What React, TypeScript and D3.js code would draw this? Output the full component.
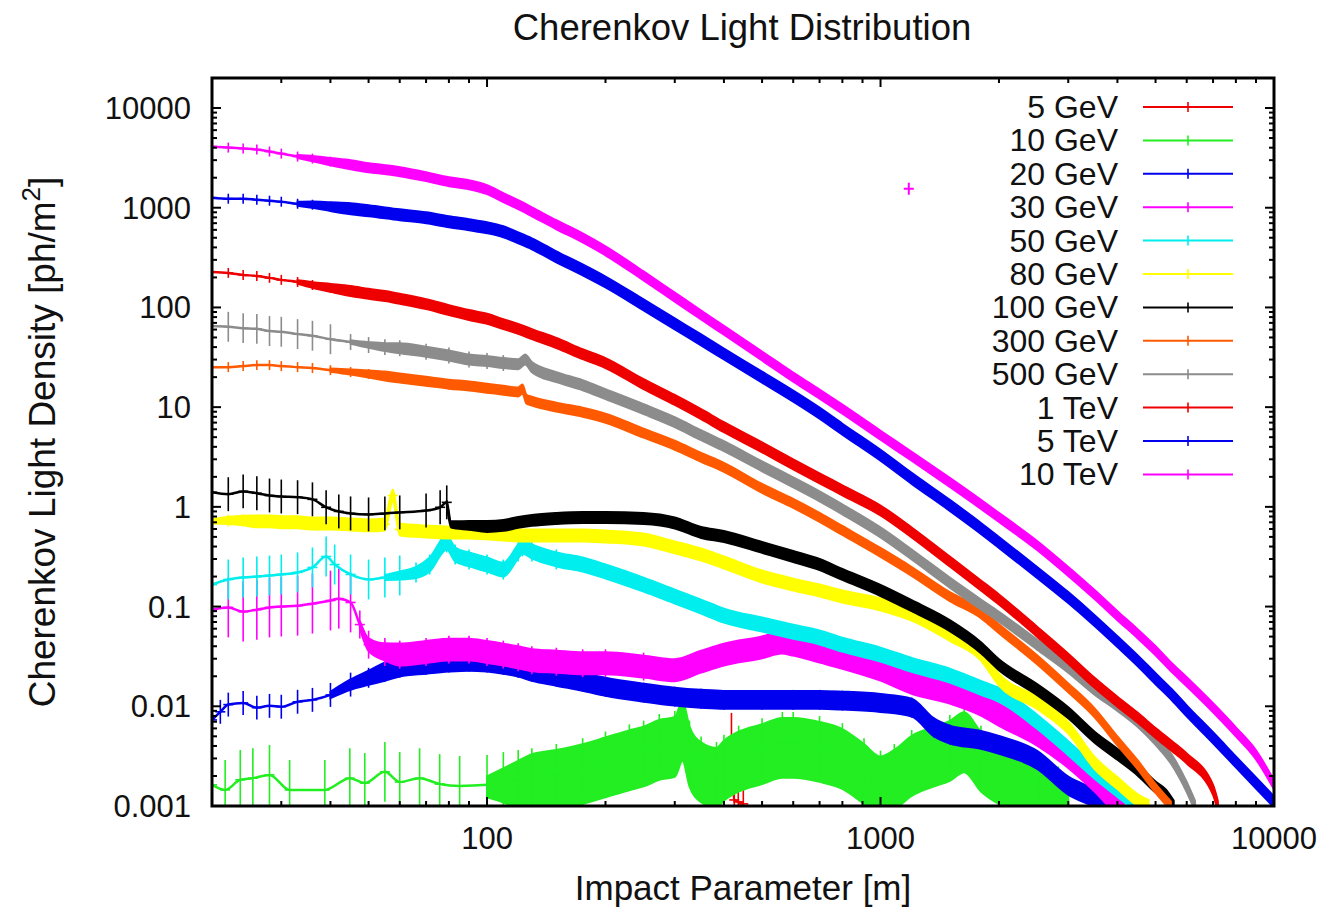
import React from "react";
import * as d3 from "d3";

// ---------- text ----------
const TITLE = "Cherenkov Light Distribution";
const X_LABEL = "Impact Parameter [m]";
const Y_LABEL_MAIN = "Cherenkov Light Density [ph/m";
const Y_LABEL_SUP = "2";
const Y_LABEL_END = "]";
const X_DOMAIN = [20, 10000];
const Y_DOMAIN = [0.001, 20000];
const X_TICK_VALUES = [100, 1000, 10000];
const X_TICK_LABELS = ["100", "1000", "10000"];
const Y_TICK_VALUES = [0.001, 0.01, 0.1, 1, 10, 100, 1000, 10000];
const Y_TICK_LABELS = ["0.001", "0.01", "0.1", "1", "10", "100", "1000", "10000"];
const LABELS = ["5 GeV", "10 GeV", "20 GeV", "30 GeV", "50 GeV", "80 GeV", "100 GeV", "300 GeV", "500 GeV", "1 TeV", "5 TeV", "10 TeV"];

// ---------- data: [impact parameter m, density ph/m^2] ----------
const GEV5 = [[418, 0.0043], [425, 0.00115], [435, 0.0011], [448, 0.00105]];

const GEV10 = [[20, 0.00163], [21.6, 0.00145], [23.6, 0.00183], [25.4, 0.0019], [28, 0.00205], [31.5, 0.00145], [38.7, 0.00145], [44.8, 0.0019], [48.9, 0.0017], [55, 0.0022], [60, 0.00174], [67.4, 0.0019], [75.8, 0.00166], [85.2, 0.00159], [100, 0.00163], [110, 0.00174], [120, 0.00183], [130, 0.0019], [150, 0.0021], [175, 0.0024], [200, 0.0028], [230, 0.0033], [250, 0.0036], [274, 0.0042], [300, 0.0045], [314, 0.0065], [327, 0.0036], [350, 0.0025], [383, 0.0022], [400, 0.0026], [436, 0.0032], [500, 0.0038], [563, 0.0044], [600, 0.0044], [700, 0.004], [800, 0.0034], [908, 0.0024], [1000, 0.0018], [1084, 0.0021], [1200, 0.0029], [1368, 0.0036], [1500, 0.0041], [1632, 0.005], [1800, 0.0032], [2000, 0.0024], [2250, 0.002], [2530, 0.0016], [2830, 0.00125], [3000, 0.001]];

const GEV20 = [[20, 0.0073], [21, 0.0088], [22, 0.0104], [24, 0.0108], [26, 0.0097], [28, 0.0101], [30, 0.0099], [33, 0.0111], [36, 0.0116], [40, 0.013], [45, 0.0165], [50, 0.0193], [55, 0.0222], [60, 0.0244], [70, 0.0261], [80, 0.0274], [90, 0.028], [100, 0.0274], [110, 0.0261], [120, 0.0244], [130, 0.0222], [150, 0.0198], [175, 0.0176], [200, 0.0157], [250, 0.0137], [300, 0.0125], [350, 0.0119], [400, 0.0116], [500, 0.0116], [600, 0.0116], [700, 0.0116], [800, 0.0114], [1000, 0.0108], [1200, 0.0097], [1370, 0.0061], [1500, 0.0052], [1800, 0.0046], [2000, 0.0041], [2500, 0.0029], [3000, 0.0016], [3500, 0.0012], [3800, 0.001]];

const GEV30 = [[20, 0.093], [22, 0.098], [24, 0.089], [26, 0.093], [28, 0.098], [30, 0.1], [33, 0.102], [36, 0.107], [40, 0.115], [42, 0.12], [45, 0.11], [47.5, 0.066], [50, 0.0415], [55, 0.035], [60, 0.033], [70, 0.035], [80, 0.037], [90, 0.037], [100, 0.035], [110, 0.033], [120, 0.031], [130, 0.029], [150, 0.028], [175, 0.027], [200, 0.027], [250, 0.025], [300, 0.023], [350, 0.028], [400, 0.033], [500, 0.039], [560, 0.0435], [600, 0.0415], [700, 0.0353], [800, 0.0307], [1000, 0.0233], [1200, 0.0172], [1500, 0.0137], [1800, 0.0104], [2000, 0.0082], [2500, 0.0052], [3000, 0.0031], [3500, 0.0018], [4000, 0.00107], [4150, 0.001]];

const GEV50 = [[20, 0.166], [22, 0.187], [24, 0.196], [26, 0.2], [28, 0.205], [30, 0.21], [33, 0.22], [36, 0.247], [39, 0.318], [41, 0.264], [45, 0.21], [50, 0.187], [55, 0.196], [60, 0.205], [66, 0.22], [71.5, 0.264], [79, 0.44], [83, 0.333], [90, 0.297], [100, 0.264], [110, 0.235], [120, 0.357], [123, 0.401], [130, 0.357], [150, 0.297], [175, 0.264], [200, 0.225], [250, 0.166], [300, 0.126], [350, 0.1], [400, 0.0812], [500, 0.066], [600, 0.056], [700, 0.049], [800, 0.0415], [1000, 0.033], [1200, 0.026], [1500, 0.0203], [1800, 0.0153], [2000, 0.013], [2500, 0.007], [3000, 0.0038], [3500, 0.0022], [4000, 0.00145], [4530, 0.001]];

const GEV80 = [[20, 0.715], [22, 0.73], [24, 0.73], [26, 0.715], [28, 0.715], [30, 0.7], [33, 0.7], [36, 0.68], [40, 0.68], [45, 0.667], [50, 0.652], [55, 0.667], [57.6, 1.3], [60, 0.594], [70, 0.567], [80, 0.554], [90, 0.554], [100, 0.542], [110, 0.529], [120, 0.517], [130, 0.517], [150, 0.517], [175, 0.517], [200, 0.505], [250, 0.47], [300, 0.392], [350, 0.333], [400, 0.277], [500, 0.2], [600, 0.166], [700, 0.145], [800, 0.126], [1000, 0.105], [1200, 0.083], [1500, 0.052], [1800, 0.033], [2000, 0.0185], [2500, 0.0108], [3000, 0.0061], [3500, 0.0027], [4000, 0.0017], [4500, 0.00115], [4800, 0.001]];

const GEV100 = [[20, 1.4], [22, 1.34], [24, 1.43], [26, 1.37], [28, 1.3], [30, 1.27], [33, 1.25], [36, 1.19], [39, 0.99], [42, 0.9], [45, 0.86], [50, 0.84], [55, 0.86], [60, 0.88], [70, 0.92], [76, 0.99], [79, 1.11], [81, 0.667], [90, 0.652], [100, 0.637], [110, 0.652], [120, 0.699], [130, 0.732], [150, 0.766], [175, 0.784], [200, 0.784], [250, 0.766], [300, 0.69], [350, 0.554], [400, 0.505], [500, 0.392], [600, 0.318], [700, 0.264], [800, 0.21], [1000, 0.145], [1200, 0.102], [1500, 0.0644], [1800, 0.0387], [2000, 0.0261], [2500, 0.0147], [3000, 0.0086], [3500, 0.0049], [4000, 0.0033], [4500, 0.0023], [5000, 0.00155], [5300, 0.0013], [5560, 0.001]];

const GEV300 = [[20, 25.2], [22, 25.2], [24, 25.8], [26, 26.4], [28, 26.4], [30, 25.8], [33, 25.2], [36, 24.7], [40, 23.5], [45, 22.5], [50, 21.5], [55, 20.5], [60, 19.6], [70, 18.2], [80, 17], [90, 16.3], [100, 15.5], [110, 14.8], [120, 14.2], [123, 15.2], [126, 12], [130, 11.5], [150, 10], [175, 8.9], [200, 7.75], [250, 5.48], [300, 4.15], [350, 3.14], [400, 2.49], [500, 1.53], [600, 1.084], [700, 0.784], [800, 0.58], [1000, 0.349], [1200, 0.225], [1500, 0.126], [1800, 0.085], [2000, 0.06], [2500, 0.0293], [3000, 0.0153], [3500, 0.0086], [4000, 0.0045], [4500, 0.0026], [5000, 0.0015], [5470, 0.001]];

const GEV500 = [[20, 65], [22, 64], [24, 62], [26, 61], [28, 58], [30, 57], [33, 54], [36, 52], [40, 48], [45, 45], [50, 42], [55, 40], [60, 39], [70, 36], [80, 33], [90, 30], [100, 29], [110, 27.7], [120, 27], [125, 30], [130, 25.2], [150, 20], [175, 16.6], [200, 13.5], [250, 9.55], [300, 7.07], [350, 5.23], [400, 4.06], [500, 2.55], [600, 1.76], [700, 1.275], [800, 0.944], [1000, 0.554], [1200, 0.333], [1500, 0.174], [1800, 0.105], [2000, 0.079], [2500, 0.0415], [3000, 0.0244], [3500, 0.0147], [4000, 0.0101], [4500, 0.007], [5000, 0.0046], [5500, 0.0029], [6000, 0.00155], [6300, 0.001]];

const TEV1 = [[20, 227], [22, 222], [24, 212], [26, 207], [28, 198], [30, 189], [33, 180], [36, 168], [40, 157], [45, 146], [50, 137], [55, 130], [60, 122], [70, 108], [80, 94], [90, 84], [100, 77], [110, 68], [120, 61], [130, 54], [150, 44], [175, 34], [200, 27.7], [250, 17], [300, 11.8], [350, 8.5], [400, 6.3], [500, 3.96], [600, 2.67], [700, 1.93], [800, 1.465], [1000, 0.92], [1200, 0.554], [1500, 0.283], [1800, 0.163], [2000, 0.118], [2500, 0.056], [3000, 0.03], [3500, 0.0172], [4000, 0.0111], [4500, 0.0077], [5000, 0.0054], [5500, 0.004], [6000, 0.003], [7000, 0.00145], [7200, 0.001]];

const TEV5 = [[20, 1262], [22, 1232], [24, 1232], [26, 1203], [28, 1176], [30, 1149], [33, 1096], [36, 1072], [40, 1024], [45, 977], [50, 933], [60, 850], [70, 793], [80, 723], [90, 675], [100, 630], [110, 574], [120, 499], [130, 435], [150, 322], [175, 238], [200, 180], [250, 106], [300, 68.3], [350, 47.2], [400, 34.1], [500, 20], [600, 12.9], [700, 8.71], [800, 6.01], [1000, 3.29], [1200, 1.93], [1500, 1.035], [1800, 0.608], [2000, 0.44], [2500, 0.22], [3000, 0.123], [3500, 0.0723], [4000, 0.0445], [4500, 0.0287], [5000, 0.0189], [5500, 0.01305], [6000, 0.009], [7000, 0.00483], [8000, 0.00277], [9000, 0.0017], [10000, 0.0011]];

const TEV10 = [[20, 4100], [22, 4010], [24, 3920], [26, 3830], [28, 3660], [30, 3490], [33, 3260], [36, 3110], [40, 2900], [45, 2700], [50, 2520], [55, 2410], [60, 2300], [70, 2050], [80, 1825], [90, 1700], [100, 1517], [110, 1261], [120, 1072], [130, 911], [150, 675], [175, 499], [200, 370], [250, 207], [300, 127], [350, 84], [400, 59], [500, 32.6], [600, 20], [700, 13.5], [800, 9.55], [1000, 5.23], [1200, 3.22], [1500, 1.76], [1800, 1.06], [2000, 0.784], [2500, 0.41], [3000, 0.225], [3500, 0.132], [4000, 0.081], [4500, 0.0535], [5000, 0.0361], [5500, 0.0244], [6000, 0.0176], [7000, 0.00966], [8000, 0.00554], [9000, 0.00326], [10000, 0.00163]];

const TEV10_OUTLIER = [[1180, 1550]];

// ---------- styles ----------
const FONT = "'Liberation Sans', Arial, Helvetica, sans-serif";
const W = 1330;
const H = 911;
const PLOT = { left: 212, right: 1274, top: 78, bottom: 806 };

type Pt = number[];
interface Series {
  label: string;
  color: string;
  data: Pt[];
  bandUp: number; // half-width (decades) above the curve where points are dense
  bandDown: number; // half-width (decades) below
  bandFrom: number; // x where points become dense
  err: number[][]; // [maxX, half-height in decades]
}

const SERIES: Series[] = [
  { label: LABELS[0], color: "#ee0000", data: GEV5, bandUp: 0, bandDown: 0, bandFrom: Infinity, err: [[Infinity, 0.3]] },
  { label: LABELS[1], color: "#22ee22", data: GEV10, bandUp: 0.24, bandDown: 0.36, bandFrom: 110, err: [[Infinity, 0.3]] },
  { label: LABELS[2], color: "#0000ee", data: GEV20, bandUp: 0.09, bandDown: 0.09, bandFrom: 45, err: [[45, 0.12], [1500, 0.1]] },
  { label: LABELS[3], color: "#ff00ff", data: GEV30, bandUp: 0.11, bandDown: 0.11, bandFrom: 48, err: [[46, 0.3], [250, 0.14], [Infinity, 0.07]] },
  { label: LABELS[4], color: "#00eeee", data: GEV50, bandUp: 0.07, bandDown: 0.07, bandFrom: 60, err: [[60, 0.2], [150, 0.1]] },
  { label: LABELS[5], color: "#ffff00", data: GEV80, bandUp: 0.06, bandDown: 0.06, bandFrom: 20, err: [[60, 0.06]] },
  { label: LABELS[6], color: "#000000", data: GEV100, bandUp: 0.055, bandDown: 0.055, bandFrom: 81, err: [[80, 0.17]] },
  { label: LABELS[7], color: "#ff5a00", data: GEV300, bandUp: 0.045, bandDown: 0.045, bandFrom: 45, err: [[100, 0.05]] },
  { label: LABELS[8], color: "#8c8c8c", data: GEV500, bandUp: 0.05, bandDown: 0.05, bandFrom: 50, err: [[40, 0.15], [110, 0.08]] },
  { label: LABELS[9], color: "#ee0000", data: TEV1, bandUp: 0.05, bandDown: 0.05, bandFrom: 36, err: [[60, 0.05]] },
  { label: LABELS[10], color: "#0000ee", data: TEV5, bandUp: 0.055, bandDown: 0.055, bandFrom: 36, err: [[60, 0.05]] },
  { label: LABELS[11], color: "#ff00ff", data: TEV10, bandUp: 0.045, bandDown: 0.045, bandFrom: 36, err: [[60, 0.05]] },
];

function errFor(s: Series, xv: number): number {
  for (const [mx, d] of s.err) if (xv <= mx) return d;
  return 0;
}

export default function App() {
  const x = d3.scaleLog().domain(X_DOMAIN).range([PLOT.left, PLOT.right]);
  const y = d3.scaleLog().domain(Y_DOMAIN).range([PLOT.bottom, PLOT.top]);

  const line = d3
    .line<Pt>()
    .x((d) => x(d[0]))
    .y((d) => y(d[1]))
    .curve(d3.curveMonotoneX);

  const xTicks = x.ticks();
  const yTicks = y.ticks();
  const isMajor = (v: number) => Math.abs(Math.log10(v) - Math.round(Math.log10(v))) < 1e-9;

  const legendTextX = 1118;
  const legendLineX1 = 1143;
  const legendLineX2 = 1233;
  const legendY0 = 107;
  const legendStep = 33.4;

  return (
    <svg
      width={W}
      height={H}
      viewBox={`0 0 ${W} ${H}`}
      style={{ position: "absolute", left: 0, top: 0, background: "#fff" }}
      fontFamily={FONT}
    >
      <defs>
        <clipPath id="plotClip">
          <rect x={PLOT.left} y={PLOT.top} width={PLOT.right - PLOT.left} height={PLOT.bottom - PLOT.top} />
        </clipPath>
      </defs>
      <rect x={0} y={0} width={W} height={H} fill="#fff" />

      {/* title */}
      <text x={742} y={40} textAnchor="middle" fontSize={36.5} fill="#111">
        {TITLE}
      </text>

      {/* series */}
      <g clipPath="url(#plotClip)">
        {SERIES.map((s, si) => {
          const startIdx = s.data.findIndex((d) => d[0] >= s.bandFrom);
          const dense = startIdx < 0 ? [] : s.data.slice(Math.max(0, startIdx - 1));
          // taper: the band grows over the first few dense points
          const taper = (i: number) => Math.min(1, 0.35 + 0.22 * i);
          const bandPts = dense.map((d, i) => [d[0], d[1], taper(i)]);
          const area = d3
            .area<number[]>()
            .x((d) => x(d[0]))
            .y0((d) => y(d[1] / Math.pow(10, s.bandDown * d[2])))
            .y1((d) => y(d[1] * Math.pow(10, s.bandUp * d[2])))
            .curve(d3.curveMonotoneX);
          return (
            <g key={si}>
              {bandPts.length > 1 && (
                <path d={area(bandPts) || ""} fill={s.color} stroke={s.color} strokeWidth={2} />
              )}
              <path d={line(s.data) || ""} fill="none" stroke={s.color} strokeWidth={2.5} />
              {s.data.map((d, i) => {
                const e = errFor(s, d[0]);
                if (e <= 0) return null;
                const px = x(d[0]);
                return (
                  <g key={i} stroke={s.color} strokeWidth={1.6}>
                    <line x1={px} x2={px} y1={y(d[1] / Math.pow(10, e))} y2={y(d[1] * Math.pow(10, e))} />
                    <line x1={px - 5} x2={px + 5} y1={y(d[1])} y2={y(d[1])} />
                  </g>
                );
              })}
            </g>
          );
        })}
        {TEV10_OUTLIER.map((d, i) => (
          <g key={"o" + i} stroke="#ff00ff" strokeWidth={2}>
            <line x1={x(d[0]) - 5} x2={x(d[0]) + 5} y1={y(d[1])} y2={y(d[1])} />
            <line x1={x(d[0])} x2={x(d[0])} y1={y(d[1]) - 6} y2={y(d[1]) + 6} />
          </g>
        ))}
      </g>

      {/* ticks */}
      <g stroke="#000" strokeWidth={2}>
        {xTicks.map((v, i) => {
          const len = isMajor(v) ? 9 : 5;
          const px = x(v);
          return (
            <g key={"xt" + i}>
              <line x1={px} x2={px} y1={PLOT.bottom} y2={PLOT.bottom - len} />
              <line x1={px} x2={px} y1={PLOT.top} y2={PLOT.top + len} />
            </g>
          );
        })}
        {yTicks.map((v, i) => {
          const len = isMajor(v) ? 9 : 5;
          const py = y(v);
          return (
            <g key={"yt" + i}>
              <line x1={PLOT.left} x2={PLOT.left + len} y1={py} y2={py} />
              <line x1={PLOT.right} x2={PLOT.right - len} y1={py} y2={py} />
            </g>
          );
        })}
      </g>

      {/* frame */}
      <rect
        x={PLOT.left}
        y={PLOT.top}
        width={PLOT.right - PLOT.left}
        height={PLOT.bottom - PLOT.top}
        fill="none"
        stroke="#000"
        strokeWidth={3}
      />

      {/* tick labels */}
      {X_TICK_VALUES.map((v, i) => (
        <text key={"xl" + i} x={x(v)} y={849} textAnchor="middle" fontSize={31} fill="#111">
          {X_TICK_LABELS[i]}
        </text>
      ))}
      {Y_TICK_VALUES.map((v, i) => (
        <text key={"yl" + i} x={191} y={y(v) + 11} textAnchor="end" fontSize={31} fill="#111">
          {Y_TICK_LABELS[i]}
        </text>
      ))}

      {/* axis labels */}
      <text x={743} y={900} textAnchor="middle" fontSize={35} fill="#111">
        {X_LABEL}
      </text>
      <text transform="translate(55,442) rotate(-90)" textAnchor="middle" fontSize={37} fill="#111">
        {Y_LABEL_MAIN}
        <tspan dy={-15} fontSize={26}>
          {Y_LABEL_SUP}
        </tspan>
        <tspan dy={15}>{Y_LABEL_END}</tspan>
      </text>

      {/* legend */}
      {SERIES.map((s, i) => {
        const cy = legendY0 + i * legendStep;
        return (
          <g key={"lg" + i}>
            <text x={legendTextX} y={cy + 11} textAnchor="end" fontSize={32} fill="#111">
              {s.label}
            </text>
            <line x1={legendLineX1} x2={legendLineX2} y1={cy} y2={cy} stroke={s.color} strokeWidth={2} />
            <line x1={1188} x2={1188} y1={cy - 5} y2={cy + 5} stroke={s.color} strokeWidth={1.6} />
          </g>
        );
      })}
    </svg>
  );
}
